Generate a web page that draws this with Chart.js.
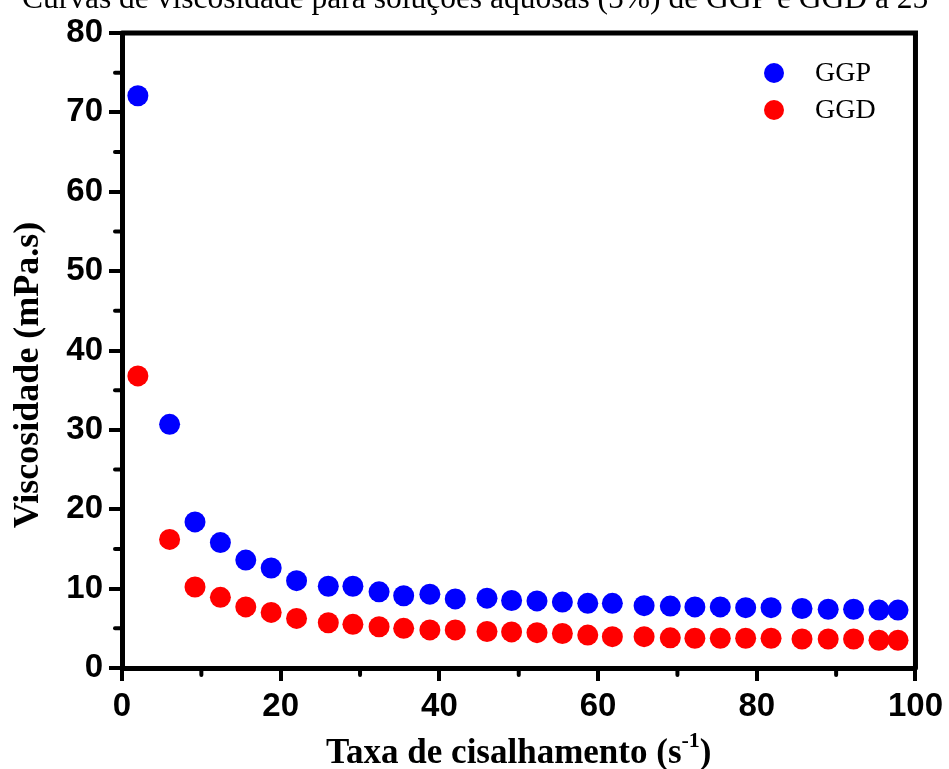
<!DOCTYPE html>
<html>
<head>
<meta charset="utf-8">
<script src="https://cdn.jsdelivr.net/npm/chart.js@4/dist/chart.umd.min.js"></script>
<style>
  body { margin: 0; background: #fff; }
  #wrap { width: 949px; height: 769px; }
</style>
</head>
<body>
<div id="wrap"><canvas id="visc-chart" width="949" height="769"></canvas></div>
<script>
const shearRate = [2.0, 6.0, 9.2, 12.4, 15.6, 18.8, 22.0, 26.0, 29.1, 32.4, 35.5, 38.8, 42.0, 46.0, 49.1,
  52.3, 55.5, 58.7, 61.8, 65.8, 69.1, 72.2, 75.4, 78.6, 81.8, 85.7, 89.0, 92.2, 95.4, 97.8];
const ggp = [72.1, 30.7, 18.4, 15.8, 13.6, 12.6, 11.0, 10.3, 10.3, 9.6, 9.1, 9.3, 8.7, 8.8, 8.5,
  8.45, 8.3, 8.15, 8.15, 7.85, 7.8, 7.7, 7.7, 7.6, 7.6, 7.5, 7.4, 7.4, 7.3, 7.3];
const ggd = [36.8, 16.2, 10.2, 8.9, 7.7, 7.0, 6.25, 5.7, 5.5, 5.2, 5.0, 4.8, 4.8, 4.6, 4.55,
  4.45, 4.35, 4.15, 3.95, 3.95, 3.8, 3.75, 3.75, 3.75, 3.75, 3.65, 3.65, 3.65, 3.5, 3.5];
const seriesNames = ['GGP', 'GGD'];
const xTicks = [0, 20, 40, 60, 80, 100];
const yTicks = [0, 10, 20, 30, 40, 50, 60, 70, 80];
const xMinor = [10, 30, 50, 70, 90];
const yMinor = [5, 15, 25, 35, 45, 55, 65, 75];

const chartTitle = 'Curvas de viscosidade para soluções aquosas (5%) de GGP e GGD a 25 °C';
const xTitle = 'Taxa de cisalhamento (s';
const yTitle = 'Viscosidade (mPa.s)';

const toPoints = (xs, ys) => xs.map((x, i) => ({ x: x, y: ys[i] }));

// frame, minor ticks, titles and the legend inside the plot
const extras = {
  id: 'extras',
  afterDraw(chart) {
    const ctx = chart.ctx;
    const a = chart.chartArea;
    const xs = chart.scales.x, ys = chart.scales.y;
    ctx.save();
    ctx.strokeStyle = '#000';
    ctx.lineCap = 'round';
    ctx.lineWidth = 5;
    ctx.beginPath();
    ctx.moveTo(a.left, a.top); ctx.lineTo(a.right, a.top); ctx.lineTo(a.right, a.bottom);
    ctx.stroke();
    ctx.lineWidth = 4;
    yMinor.forEach(v => {
      const p = ys.getPixelForValue(v);
      ctx.beginPath(); ctx.moveTo(a.left - 7, p); ctx.lineTo(a.left, p); ctx.stroke();
    });
    xMinor.forEach(v => {
      const p = xs.getPixelForValue(v);
      ctx.beginPath(); ctx.moveTo(p, a.bottom); ctx.lineTo(p, a.bottom + 7); ctx.stroke();
    });

    ctx.fillStyle = '#000';
    ctx.textBaseline = 'alphabetic';

    // chart title (cut by the top edge, as in the source)
    ctx.font = '31.5px "Liberation Serif"';
    ctx.textAlign = 'left';
    ctx.fillText(chartTitle, 22, 8);

    // x title with superscript
    const bigFont = 'bold 35px "Liberation Serif"';
    const supFont = 'bold 22px "Liberation Serif"';
    ctx.font = bigFont;
    const w1 = ctx.measureText(xTitle).width;
    ctx.font = supFont;
    const w2 = ctx.measureText('-1').width;
    ctx.font = bigFont;
    const w3 = ctx.measureText(')').width;
    let tx = (a.left + a.right) / 2 - (w1 + w2 + w3) / 2;
    const by = 763;
    ctx.fillText(xTitle, tx, by);
    tx += w1;
    ctx.font = supFont;
    ctx.fillText('-1', tx, by - 16);
    tx += w2;
    ctx.font = bigFont;
    ctx.fillText(')', tx, by);

    // y title
    ctx.save();
    ctx.translate(29, 375);
    ctx.rotate(-Math.PI / 2);
    ctx.textAlign = 'center';
    ctx.textBaseline = 'middle';
    ctx.font = 'bold 36px "Liberation Serif"';
    ctx.fillText(yTitle, 0, 0);
    ctx.restore();

    // legend
    ctx.font = '28px "Liberation Serif"';
    ctx.textAlign = 'left';
    ctx.textBaseline = 'middle';
    chart.data.datasets.forEach((ds, i) => {
      const cy = 73 + i * 37;
      ctx.fillStyle = ds.backgroundColor;
      ctx.beginPath(); ctx.arc(774, cy, 10, 0, Math.PI * 2); ctx.fill();
      ctx.fillStyle = '#000';
      ctx.fillText(ds.label, 815, cy + 1);
    });
    ctx.restore();
  }
};

const tickFont = { family: '"Liberation Sans", Arial', size: 33, weight: 'bold' };

const config = {
  type: 'scatter',
  data: {
    datasets: [
      {
        label: seriesNames[0],
        data: toPoints(shearRate, ggp),
        backgroundColor: '#0000ff',
        borderWidth: 0,
        pointRadius: 10.5,
        pointHoverRadius: 10.5,
      },
      {
        label: seriesNames[1],
        data: toPoints(shearRate, ggd),
        backgroundColor: '#ff0000',
        borderWidth: 0,
        pointRadius: 10.5,
        pointHoverRadius: 10.5,
      }
    ]
  },
  options: {
    responsive: false,
    animation: false,
    layout: { padding: { top: 33, right: 32, left: 0, bottom: 0 } },
    plugins: {
      legend: { display: false },
      tooltip: { enabled: false },
    },
    scales: {
      x: {
        type: 'linear',
        min: 0,
        max: 100,
        afterBuildTicks: s => { s.ticks = xTicks.map(v => ({ value: v })); },
        afterFit: s => { s.height = 101; },
        ticks: { font: tickFont, color: '#000', padding: 6, maxRotation: 0 },
        grid: { drawOnChartArea: false, tickLength: 13, lineWidth: 4, color: '#000' },
        border: { display: true, width: 5, color: '#000' },
      },
      y: {
        min: 0,
        max: 80,
        afterBuildTicks: s => { s.ticks = yTicks.map(v => ({ value: v })); },
        afterFit: s => { s.width = 122; },
        ticks: { font: tickFont, color: '#000', padding: 6 },
        grid: { drawOnChartArea: false, tickLength: 13, lineWidth: 4, color: '#000' },
        border: { display: true, width: 5, color: '#000' },
      }
    }
  },
  plugins: [extras]
};

window.onload = function () {
  const ctx = document.getElementById('visc-chart').getContext('2d');
  new Chart(ctx, config);
};
</script>
</body>
</html>
